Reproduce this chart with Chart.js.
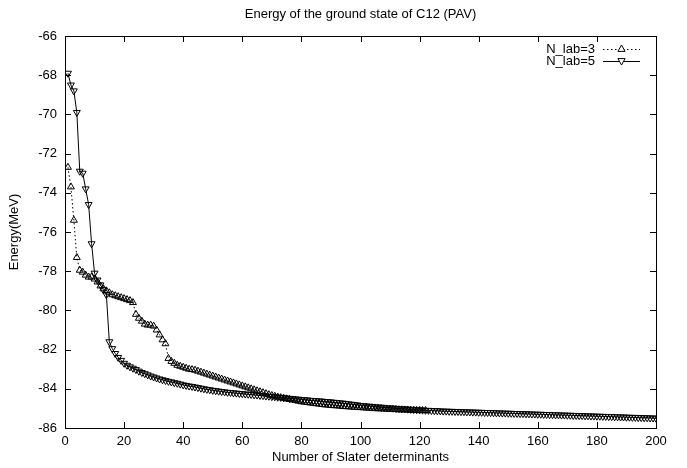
<!DOCTYPE html>
<html>
<head>
<meta charset="utf-8">
<script src="https://cdn.jsdelivr.net/npm/chart.js@4/dist/chart.umd.min.js"></script>
<style>
  html, body { margin: 0; padding: 0; background: #fff; }
  canvas { display: block; }
</style>
</head>
<body>
<canvas id="myChart" width="687" height="468"></canvas>
<script>
const chartTitle = "Energy of the ground state of C12 (PAV)";
const xTitle = "Number of Slater determinants";
const yTitle = "Energy(MeV)";
const seriesNames = ["N_lab=3", "N_lab=5"];

// energy (MeV) for 1, 2, 3, ... Slater determinants
const energyLab3 = [
  -72.7, -73.7, -75.4, -77.3, -77.95, -78.05, -78.2, -78.3, -78.3, -78.4,
  -78.55, -78.75, -78.9, -79.0, -79.1, -79.2, -79.25, -79.3, -79.35, -79.4,
  -79.45, -79.5, -79.6, -80.2, -80.4, -80.55, -80.7, -80.75, -80.75, -80.8,
  -81.0, -81.25, -81.5, -81.7, -82.45, -82.6, -82.7, -82.8, -82.85, -82.9,
  -82.95, -83.0, -83.02, -83.05, -83.1, -83.15, -83.2, -83.25, -83.3, -83.35,
  -83.4, -83.45, -83.5, -83.55, -83.6, -83.65, -83.7, -83.75, -83.8, -83.85,
  -83.9, -83.95, -84.0, -84.05, -84.1, -84.15, -84.2, -84.25, -84.3, -84.34,
  -84.38, -84.42, -84.45, -84.48, -84.51, -84.54, -84.57, -84.6, -84.63, -84.66,
  -84.68, -84.7, -84.72, -84.74, -84.76, -84.78, -84.8, -84.82, -84.83, -84.85,
  -84.86, -84.87, -84.88, -84.9, -84.91, -84.92, -84.93, -84.94, -84.95, -84.96,
  -84.97, -84.98, -84.99, -85.0, -85.01, -85.02, -85.02, -85.03, -85.04, -85.05,
  -85.05, -85.06, -85.07, -85.07, -85.08, -85.08, -85.09, -85.09, -85.1, -85.1,
  -85.11, -85.11
];

const energyLab5 = [
  -67.9, -68.5, -68.8, -69.9, -72.9, -73.0, -73.8, -74.6, -76.6, -78.1,
  -78.45, -78.7, -78.95, -79.2, -81.6, -81.95, -82.2, -82.4, -82.55, -82.7,
  -82.8, -82.88, -82.95, -83.02, -83.1, -83.17, -83.23, -83.29, -83.35, -83.4,
  -83.45, -83.5, -83.54, -83.58, -83.62, -83.65, -83.69, -83.72, -83.76, -83.8,
  -83.83, -83.86, -83.88, -83.91, -83.94, -83.97, -84.0, -84.03, -84.05, -84.08,
  -84.1, -84.12, -84.14, -84.16, -84.18, -84.19, -84.21, -84.22, -84.24, -84.25,
  -84.27, -84.28, -84.29, -84.31, -84.32, -84.34, -84.35, -84.37, -84.38, -84.4,
  -84.41, -84.43, -84.44, -84.46, -84.47, -84.49, -84.5, -84.52, -84.53, -84.55,
  -84.56, -84.57, -84.59, -84.6, -84.61, -84.62, -84.63, -84.65, -84.66, -84.67,
  -84.69, -84.7, -84.72, -84.73, -84.75, -84.77, -84.79, -84.81, -84.83, -84.85,
  -84.86, -84.88, -84.89, -84.9, -84.92, -84.93, -84.94, -84.95, -84.97, -84.98,
  -84.99, -85.0, -85.01, -85.02, -85.03, -85.04, -85.05, -85.06, -85.07, -85.08,
  -85.09, -85.1, -85.1, -85.11, -85.12, -85.12, -85.13, -85.14, -85.14, -85.15,
  -85.15, -85.16, -85.16, -85.17, -85.17, -85.18, -85.18, -85.19, -85.19, -85.2,
  -85.2, -85.21, -85.21, -85.22, -85.22, -85.23, -85.23, -85.24, -85.24, -85.25,
  -85.25, -85.26, -85.26, -85.27, -85.27, -85.28, -85.28, -85.29, -85.29, -85.3,
  -85.3, -85.31, -85.31, -85.32, -85.32, -85.33, -85.33, -85.34, -85.34, -85.35,
  -85.35, -85.36, -85.36, -85.37, -85.37, -85.38, -85.38, -85.39, -85.39, -85.4,
  -85.4, -85.41, -85.41, -85.42, -85.42, -85.43, -85.43, -85.44, -85.44, -85.45,
  -85.45, -85.46, -85.46, -85.47, -85.47, -85.48, -85.48, -85.49, -85.49, -85.5
];

const xRange = [0, 200];
const yRange = [-86, -66];

const FONT = "'Liberation Sans', Arial, Helvetica, sans-serif";
const toPoints = (arr) => arr.map((e, i) => ({ x: i + 1, y: e }));

function triangle(ctx, x, y, r, down) {
  const s = down ? -1 : 1;
  ctx.beginPath();
  ctx.moveTo(x, y - s * r);
  ctx.lineTo(x + r * 0.9, y + s * r * 0.6);
  ctx.lineTo(x - r * 0.9, y + s * r * 0.6);
  ctx.closePath();
  ctx.fillStyle = "#fff";
  ctx.fill();
  ctx.stroke();
}

// gnuplot-like frame: box, inward mirrored ticks, title and key
const gnuplotFrame = {
  id: "gnuplotFrame",
  afterDraw(chart) {
    const { ctx, chartArea: a, scales } = chart;
    const tl = 6;
    ctx.save();
    ctx.strokeStyle = "#000";
    ctx.lineWidth = 1;
    ctx.strokeRect(a.left + 0.5, a.top + 0.5, a.right - a.left, a.bottom - a.top);
    ctx.beginPath();
    scales.x.ticks.forEach((t) => {
      const px = Math.round(scales.x.getPixelForValue(t.value)) + 0.5;
      ctx.moveTo(px, a.bottom); ctx.lineTo(px, a.bottom - tl);
      ctx.moveTo(px, a.top); ctx.lineTo(px, a.top + tl);
    });
    scales.y.ticks.forEach((t) => {
      const py = Math.round(scales.y.getPixelForValue(t.value)) + 0.5;
      ctx.moveTo(a.left, py); ctx.lineTo(a.left + tl, py);
      ctx.moveTo(a.right, py); ctx.lineTo(a.right - tl, py);
    });
    ctx.stroke();

    ctx.fillStyle = "#000";
    ctx.font = "13px " + FONT;
    ctx.textAlign = "center";
    ctx.textBaseline = "middle";
    ctx.fillText(chartTitle, (a.left + a.right) / 2, 14);

    // key
    const rows = [
      { name: seriesNames[0], dash: [1.5, 2.5], down: false, y: 49 },
      { name: seriesNames[1], dash: [], down: true, y: 61 },
    ];
    rows.forEach((r) => {
      ctx.fillStyle = "#000";
      ctx.textAlign = "right";
      ctx.fillText(r.name, 595, r.y);
      ctx.setLineDash(r.dash);
      ctx.beginPath();
      ctx.moveTo(603, r.y + 0.5); ctx.lineTo(640, r.y + 0.5);
      ctx.stroke();
      ctx.setLineDash([]);
      triangle(ctx, 621.5, r.y, 4, r.down);
    });
    ctx.restore();
  },
};

new Chart(document.getElementById("myChart"), {
  type: "scatter",
  plugins: [gnuplotFrame],
  data: {
    datasets: [
      {
        label: seriesNames[0],
        data: toPoints(energyLab3),
        showLine: true,
        borderColor: "#000",
        borderWidth: 1,
        borderDash: [1.5, 2.5],
        pointStyle: "triangle",
        pointRadius: 4,
        pointBorderWidth: 1,
        pointBorderColor: "#000",
        pointBackgroundColor: "rgba(255,255,255,0)",
      },
      {
        label: seriesNames[1],
        data: toPoints(energyLab5),
        showLine: true,
        borderColor: "#000",
        borderWidth: 1,
        pointStyle: "triangle",
        pointRotation: 180,
        pointRadius: 4,
        pointBorderWidth: 1,
        pointBorderColor: "#000",
        pointBackgroundColor: "rgba(255,255,255,0)",
      },
    ],
  },
  options: {
    responsive: false,
    animation: false,
    layout: { padding: { left: 0, right: 31, top: 36, bottom: 0 } },
    plugins: {
      legend: { display: false },
      tooltip: { enabled: false },
      title: { display: false },
    },
    scales: {
      x: {
        type: "linear",
        min: xRange[0],
        max: xRange[1],
        ticks: { stepSize: 20, color: "#000", font: { family: FONT, size: 13 }, padding: 6, maxRotation: 0 },
        grid: { display: false, drawTicks: false },
        border: { display: false },
        title: { display: true, text: xTitle, color: "#000", font: { family: FONT, size: 13 }, padding: { top: 0, bottom: 3 } },
        afterFit: (s) => { s.height = 40; },
      },
      y: {
        type: "linear",
        min: yRange[0],
        max: yRange[1],
        ticks: { stepSize: 2, color: "#000", font: { family: FONT, size: 13 }, padding: 8 },
        grid: { display: false, drawTicks: false },
        border: { display: false },
        title: { display: true, text: yTitle, color: "#000", font: { family: FONT, size: 13 }, padding: { top: 7, bottom: 0 } },
        afterFit: (s) => { s.width = 65; },
      },
    },
  },
});
</script>
</body>
</html>
